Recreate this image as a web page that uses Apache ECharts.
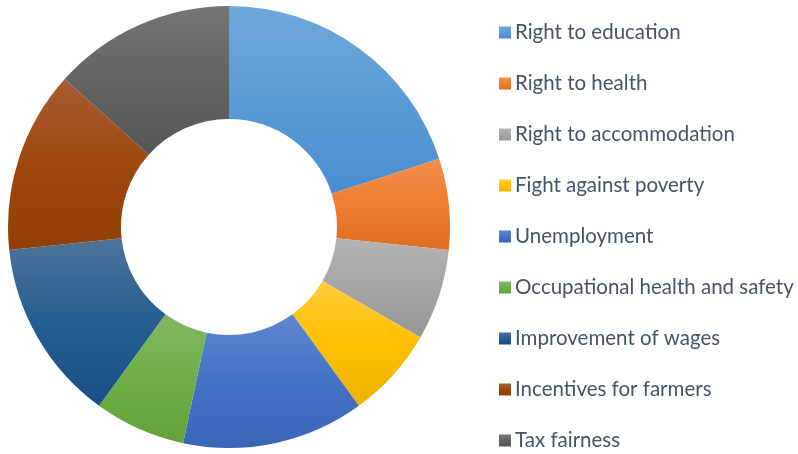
<!DOCTYPE html>
<html><head><meta charset="utf-8">
<script src="https://cdn.jsdelivr.net/npm/echarts@6/dist/echarts.min.js"></script>
<style>html,body{margin:0;padding:0;background:#fff}#c{width:798px;height:454px}</style>
</head><body><div id="c"></div>
<script>
const categories = ["Right to education","Right to health","Right to accommodation","Fight against poverty","Unemployment","Occupational health and safety","Improvement of wages","Incentives for farmers","Tax fairness"];
const values = [3,1,1,1,2,1,2,2,2];
const colorsTop = ["#6EA8DC","#F38E4C","#B4B4B4","#FFCB3C","#5E87CE","#82B762","#4F739A","#A85C33","#757575"];
const colorsMid = ["#5B9BD5","#ED7D31","#A5A5A5","#FFC000","#4472C4","#70AD47","#255E91","#9E480E","#636363"];
const colorsBot = ["#4A8DCF","#E06E1F","#969696","#EDB200","#3A66B8","#62A13A","#184F84","#923F05","#565656"];
const chart = echarts.init(document.getElementById('c'));
chart.setOption({
  animation:false,
  legend:{orient:'vertical',left:499,top:22,padding:0,itemGap:30,itemWidth:12,itemHeight:12,icon:'rect',
    textStyle:{fontFamily:'Lato',fontSize:20.5,color:'#44546A',padding:[0,0,0,-1]}},
  series:[{type:'pie',center:[229,227],radius:[108,221],startAngle:90,clockwise:true,
    label:{show:false},labelLine:{show:false},
    itemStyle:{borderWidth:0},
    data:categories.map((c,i)=>({name:c,value:values[i],itemStyle:{color:{type:'linear',x:0,y:0,x2:0,y2:1,
      colorStops:[{offset:0,color:colorsTop[i]},{offset:0.5,color:colorsMid[i]},{offset:1,color:colorsBot[i]}]}}}))
  }]
});
</script></body></html>
